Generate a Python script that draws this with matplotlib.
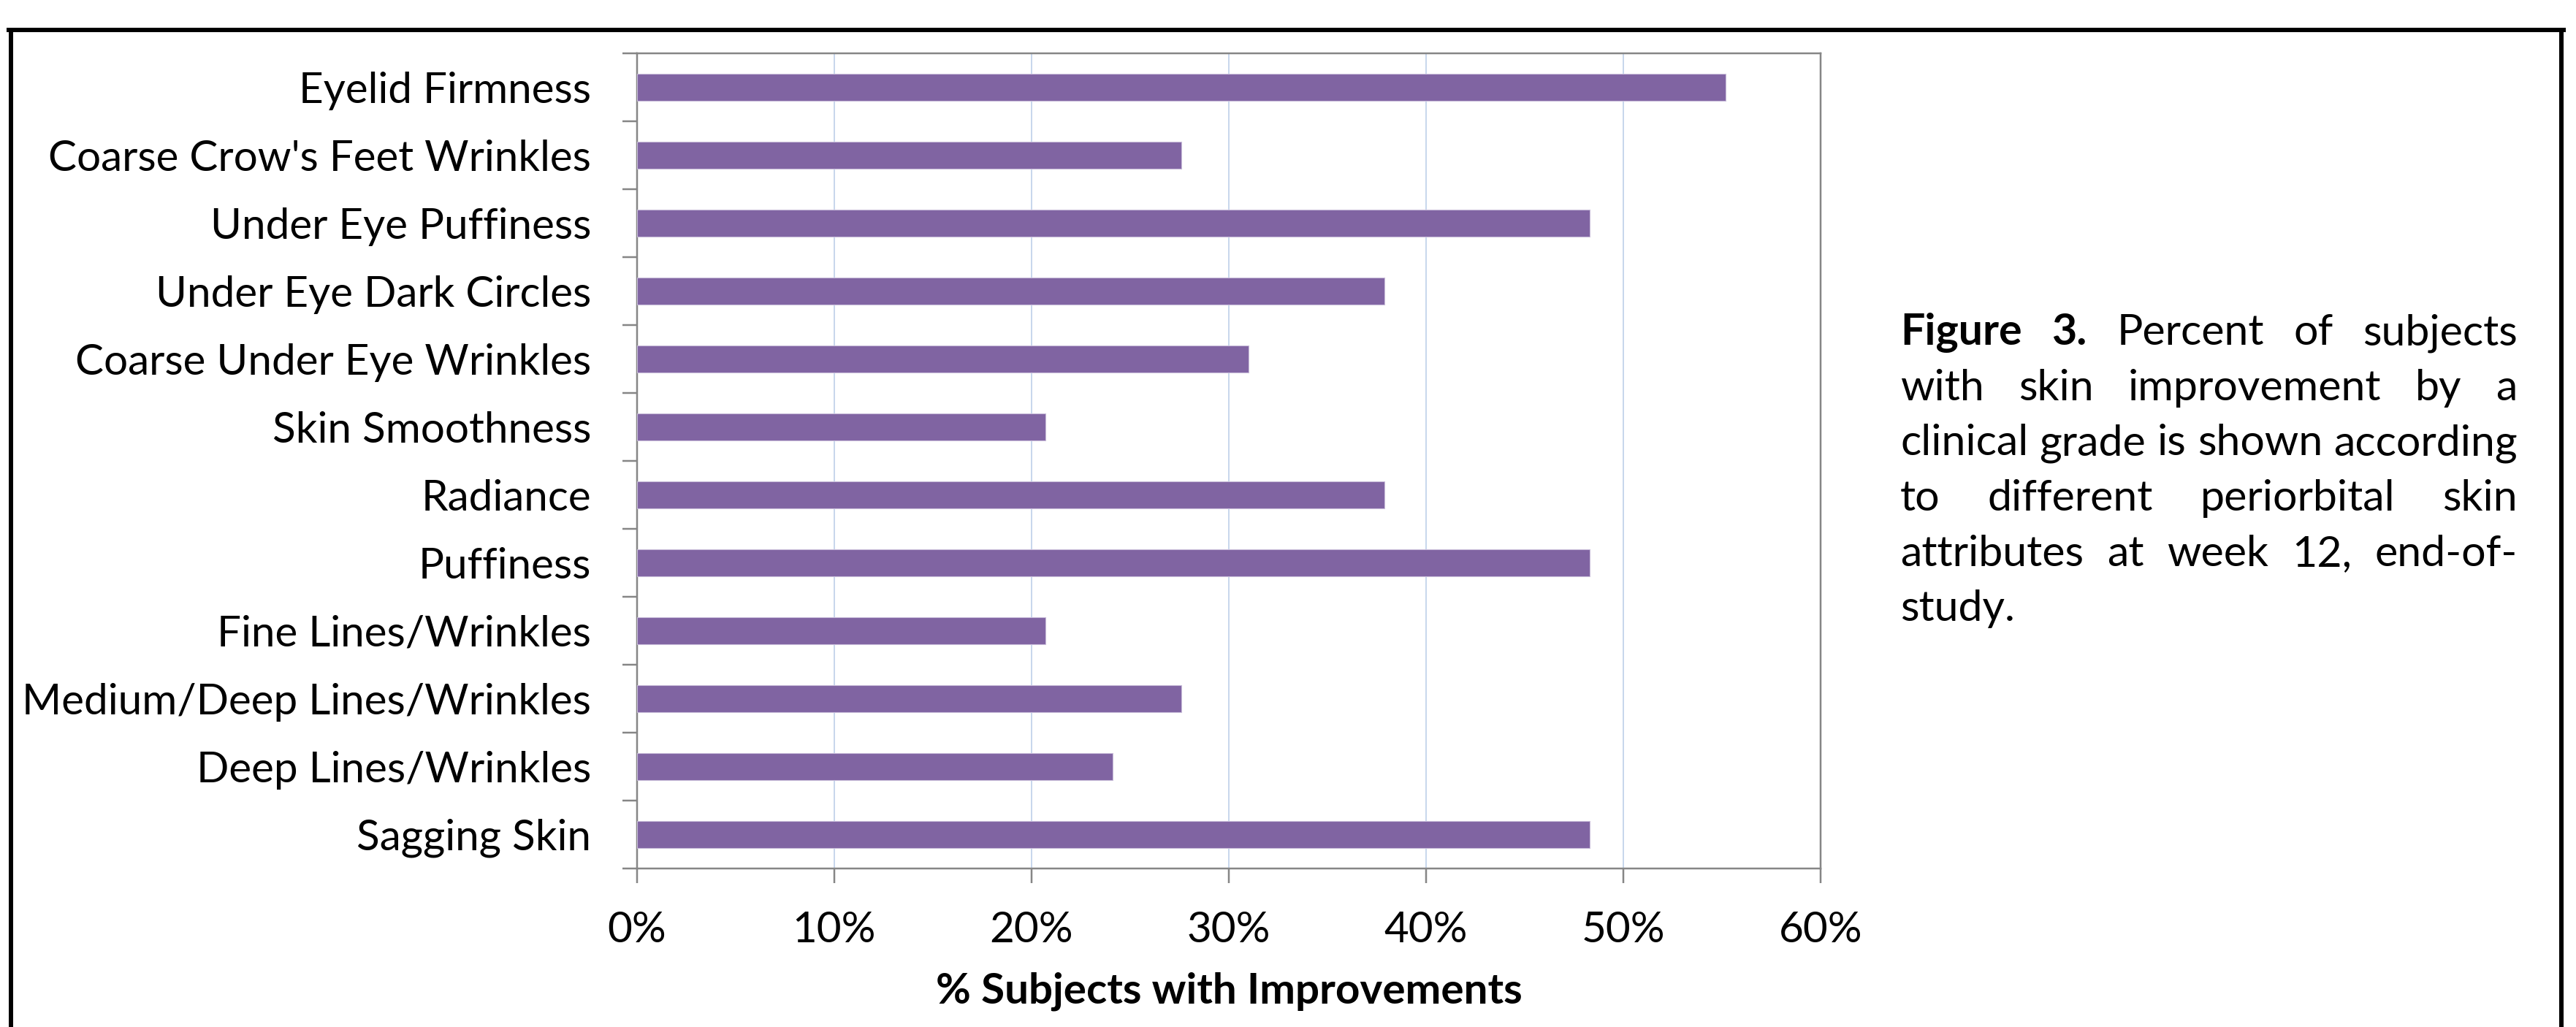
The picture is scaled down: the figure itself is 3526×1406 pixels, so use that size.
import matplotlib
matplotlib.use("Agg")
import matplotlib.pyplot as plt
from matplotlib.lines import Line2D
from matplotlib.ticker import FixedLocator, PercentFormatter
import numpy as np

# ---------------- data ----------------
categories = [
    "Eyelid Firmness",
    "Coarse Crow's Feet Wrinkles",
    "Under Eye Puffiness",
    "Under Eye Dark Circles",
    "Coarse Under Eye Wrinkles",
    "Skin Smoothness",
    "Radiance",
    "Puffiness",
    "Fine Lines/Wrinkles",
    "Medium/Deep Lines/Wrinkles",
    "Deep Lines/Wrinkles",
    "Sagging Skin",
]
pct_improved = [55.2, 27.6, 48.3, 37.9, 31.0, 20.7, 37.9, 48.3, 20.7, 27.6, 24.1, 48.3]
x_ticks = [0, 10, 20, 30, 40, 50, 60]
x_label = "% Subjects with Improvements"
caption_bold = ["Figure", "3."]
caption_lines = [
    "Figure 3. Percent of subjects",
    "with skin improvement by a",
    "clinical grade is shown according",
    "to different periorbital skin",
    "attributes at week 12, end-of-",
    "study.",
]

# ---------------- layout ----------------
W, H, DPI = 3526, 1406, 100
plt.rcParams['font.family'] = ['Lato', 'DejaVu Sans']
fig = plt.figure(figsize=(W / DPI, H / DPI), dpi=DPI, facecolor='white')


def fx(px):
    return px / W


def fy(py):
    return 1 - py / H


PX = 72.0 / DPI  # points per pixel

left, right, top, bottom = 872, 2492, 72.7, 1189
ax = fig.add_axes([fx(left), fy(bottom), (right - left) / W, (bottom - top) / H])

y = np.arange(len(categories))
ax.barh(y, pct_improved, height=0.4, color='#8064A2', edgecolor='#C9BEDA',
        linewidth=0.8, zorder=3)

ax.set_xlim(0, 60)
ax.set_ylim(len(categories) - 0.5, -0.5)
ax.xaxis.set_major_locator(FixedLocator(x_ticks))
ax.xaxis.set_major_formatter(PercentFormatter(xmax=100, decimals=0))
ax.grid(axis='x', color='#C3D3EA', linewidth=1.3, zorder=0)
ax.set_axisbelow(True)

# category boundaries carry the tick marks, labels sit at the centres
ax.set_yticks(np.arange(len(categories) + 1) - 0.5)
ax.set_yticklabels([])
ax.set_yticks(y, minor=True)
ax.set_yticklabels(categories, minor=True)

spine_col = '#868686'
for s in ax.spines.values():
    s.set_color(spine_col)
    s.set_linewidth(2.5 * PX)

fs = 42
ax.tick_params(axis='y', which='major', length=20 * PX, width=2.5 * PX,
               color=spine_col, direction='out')
ax.tick_params(axis='y', which='minor', length=0, pad=63 * PX, labelsize=fs)
ax.tick_params(axis='x', which='major', length=20 * PX, width=2.5 * PX,
               color=spine_col, direction='out', pad=27, labelsize=fs)

ax.set_xlabel(x_label, fontsize=fs, fontweight='bold')
ax.xaxis.set_label_coords(0.5, (bottom - 1357) / (bottom - top))
ax.xaxis.label.set_va('center')

# ---------------- outer frame ----------------
lw_frame = 6 * PX
fig.add_artist(Line2D([fx(12), fx(3509)], [fy(41), fy(41)], color='black',
                      lw=lw_frame, solid_capstyle='projecting'))
fig.add_artist(Line2D([fx(14.5), fx(14.5)], [fy(41), fy(1410)], color='black',
                      lw=lw_frame, solid_capstyle='projecting'))
fig.add_artist(Line2D([fx(3506), fx(3506)], [fy(41), fy(1410)], color='black',
                      lw=lw_frame, solid_capstyle='projecting'))

# ---------------- justified caption ----------------
renderer = fig.canvas.get_renderer()
cap_left, cap_right = 2601, 3446
baselines = [472, 548, 623, 699, 775, 850]


def text_width(s, size, weight='normal'):
    t = fig.text(0, 0, s, fontsize=size, fontweight=weight)
    w = t.get_window_extent(renderer).width
    t.remove()
    return w


# fit the size so that the tightest line fills the column
fs0 = 40
w_ref = text_width(caption_lines[2], fs0)
cap_fs = fs0 * (cap_right - cap_left) / w_ref

for i, line in enumerate(caption_lines):
    words = line.split(' ')
    weights = []
    for j, w in enumerate(words):
        weights.append('bold' if (i == 0 and j < len(caption_bold)) else 'normal')
    widths = [text_width(w, cap_fs, wt) for w, wt in zip(words, weights)]
    last = (i == len(caption_lines) - 1)
    if last or len(words) == 1:
        gap = text_width('a a', cap_fs) - text_width('aa', cap_fs)
    else:
        gap = (cap_right - cap_left - sum(widths)) / (len(words) - 1)
    x = cap_left
    for w, wt, wd in zip(words, weights, widths):
        fig.text(fx(x), fy(baselines[i]), w, fontsize=cap_fs, fontweight=wt,
                 ha='left', va='baseline')
        x += wd + gap

fig.savefig('out.png', dpi=DPI, facecolor='white')
